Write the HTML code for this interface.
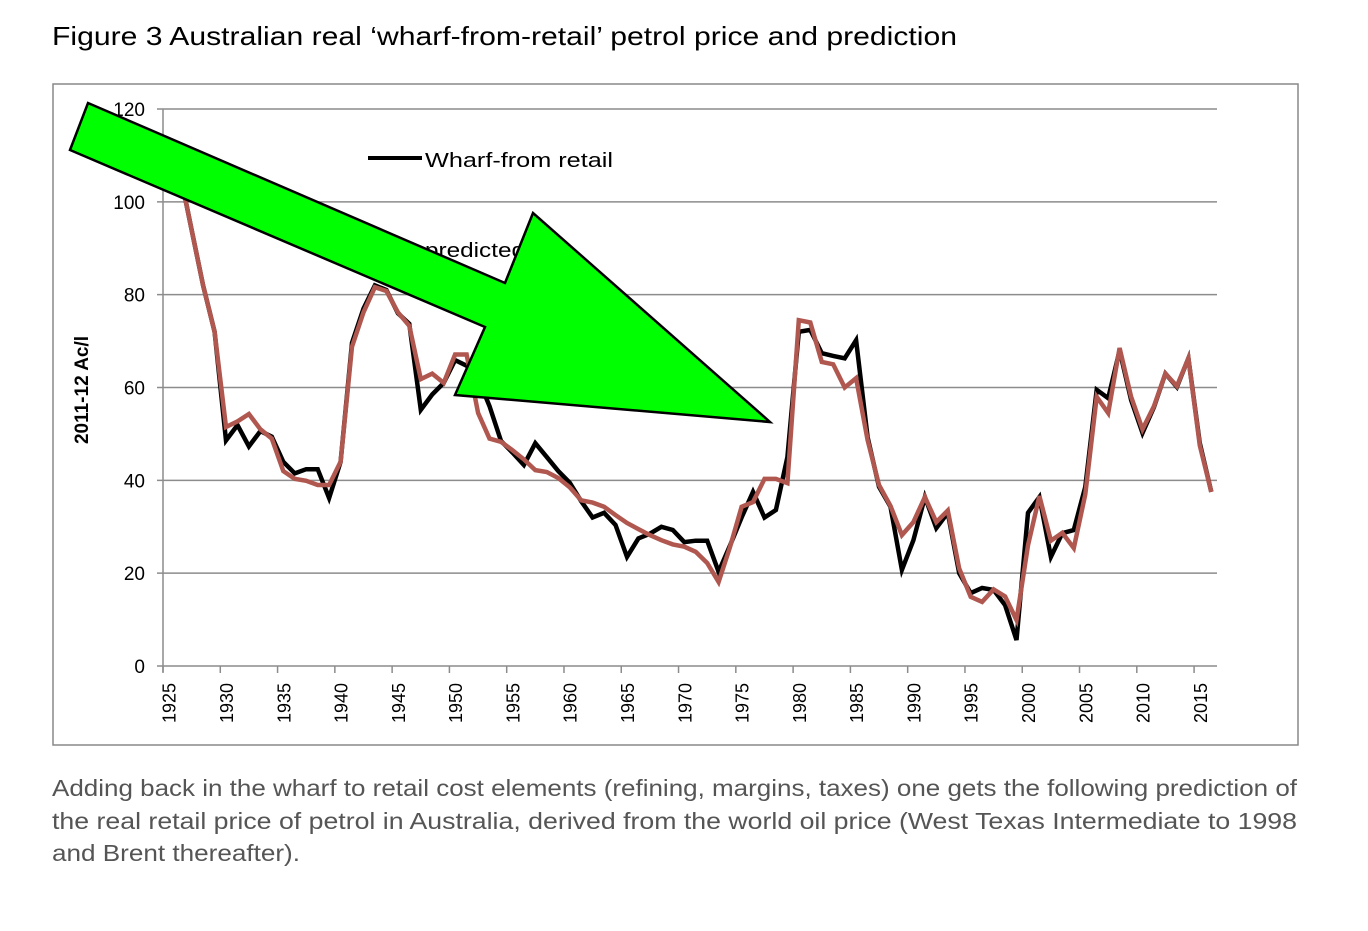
<!DOCTYPE html>
<html><head><meta charset="utf-8"><style>
body{margin:0;background:#fff;width:1368px;height:926px;overflow:hidden;font-family:"Liberation Sans",sans-serif}
</style></head><body>
<svg width="1368" height="926" xmlns="http://www.w3.org/2000/svg">
<text x="52" y="45" font-size="26" font-family="Liberation Sans, sans-serif" fill="#000" textLength="905" lengthAdjust="spacingAndGlyphs">Figure 3 Australian real ‘wharf-from-retail’ petrol price and prediction</text>
<rect x="53" y="84" width="1245" height="661" fill="#fff" stroke="#888" stroke-width="1.5"/>
<g id="grid"></g>
<g id="yaxis"></g>
<g id="xaxis"></g>
<text transform="translate(88,390) rotate(-90)" text-anchor="middle" font-size="19" font-weight="bold" font-family="Liberation Sans, sans-serif">2011-12 Ac/l</text>
<g id="series"></g>
<g>
<line x1="368" y1="158" x2="422" y2="158" stroke="#000" stroke-width="4"/>
<text x="425" y="167" font-size="20" font-family="Liberation Sans, sans-serif" textLength="188" lengthAdjust="spacingAndGlyphs">Wharf-from retail</text>
<line x1="368" y1="248" x2="422" y2="248" stroke="#b0574f" stroke-width="4"/>
<text x="425" y="257" font-size="20" font-family="Liberation Sans, sans-serif" textLength="100" lengthAdjust="spacingAndGlyphs">predicted</text>
</g>
<polygon points="88,103 505,283 533,213 770,422 455,395 485,327 70,150" fill="#00ff00" stroke="#000" stroke-width="2.5" stroke-linejoin="miter"/>
<g font-size="23" fill="#555" font-family="Liberation Sans, sans-serif">
<text x="52" y="796" textLength="1245" lengthAdjust="spacingAndGlyphs">Adding back in the wharf to retail cost elements (refining, margins, taxes) one gets the following prediction of</text>
<text x="52" y="829" textLength="1245" lengthAdjust="spacingAndGlyphs">the real retail price of petrol in Australia, derived from the world oil price (West Texas Intermediate to 1998</text>
<text x="52" y="861" textLength="248" lengthAdjust="spacingAndGlyphs">and Brent thereafter).</text>
</g>
</svg>
<script>
const startYear = 1925;
const wharf = [110,106,94,82,72,48.6,51.9,47.3,50.6,49.4,44,41.5,42.4,42.4,36.2,44,69.6,77,82,81,76,73.7,55.2,58.5,61,65.9,64.7,62,56,48.5,46,43.3,48,45,42,39.5,35.5,32,33,30.4,23.5,27.5,28.5,30,29.3,26.7,27,27,20.3,26,32,37.5,32,33.6,45,72,72.4,67.4,66.8,66.3,70.2,49.3,38.6,34.3,20.7,27.1,36.4,29.7,33,20,15.7,16.8,16.4,13.1,5.6,33,36.4,23.5,28.6,29.3,38.6,59.5,57.7,68,57.3,50.2,55.8,63,60.1,66.3,48,37.5];
const predicted = [110,106,94,82,72,51.5,52.7,54.3,51,49,42,40.3,39.9,39,39,44,68.8,76.2,81.6,80.8,76.2,73.3,61.8,63,61,67.1,67.1,54.5,49,48.3,46.5,44.5,42.2,41.8,40.5,38.5,35.7,35.2,34.3,32.5,30.8,29.5,28.2,27.1,26.2,25.7,24.6,22.2,18.1,25.7,34.3,35.3,40.3,40.3,39.4,74.5,74,65.5,65,60,62,48.7,39,34.5,28.2,31,36.4,31,33.5,21,14.9,13.8,16.5,15,9.9,26,36.6,27,28.7,25.4,37,58,54.5,68.5,58,51,56,63,60.3,66.3,47.5,37.5];
const yTicks = [0,20,40,60,80,100,120];
const xLabels = [1925,1930,1935,1940,1945,1950,1955,1960,1965,1970,1975,1980,1985,1990,1995,2000,2005,2010,2015];

const NS="http://www.w3.org/2000/svg";
const L=163,R=1217,Y0=666,Y120=109;
const nCat=92, cw=(R-L)/nCat;
function xs(year){return L+(year-startYear+0.5)*cw;}
function ys(v){return Y0-(v/120)*(Y0-Y120);}
function mk(tag,attrs,parent){const e=document.createElementNS(NS,tag);for(const k in attrs)e.setAttribute(k,attrs[k]);parent.appendChild(e);return e;}
const grid=document.getElementById('grid'),ya=document.getElementById('yaxis'),xa=document.getElementById('xaxis'),ser=document.getElementById('series');
yTicks.forEach(t=>{
  const g=mk('line',{x1:L-6,x2:R,y1:ys(t),y2:ys(t),stroke:'#8c8c8c','stroke-width':1.5},grid);
  
  
  const tx=mk('text',{x:L-18,y:ys(t)+7,'text-anchor':'end','font-size':19,'font-family':'Liberation Sans, sans-serif'},ya);
  tx.textContent=t;
  
  
});
const ax=mk('line',{x1:L,x2:L,y1:Y120,y2:Y0+6,stroke:'#8c8c8c','stroke-width':1.5},ya);


for(let i=0;i<=nCat;i+=5){
  const x=L+i*cw;
  const tk=mk('line',{x1:x,x2:x,y1:Y0,y2:Y0+7,stroke:'#8c8c8c','stroke-width':1.5},xa);
  
  
}
xLabels.forEach(yr=>{
  const x=xs(yr);
  const tx=mk('text',{transform:`translate(${x+7},683) rotate(-90)`,'text-anchor':'end','font-size':18,'font-family':'Liberation Sans, sans-serif'},xa);
  tx.textContent=yr;
  
  
});
function path(data,color,name){
  const d=data.map((v,i)=>(i?'L':'M')+xs(startYear+i).toFixed(1)+','+ys(v).toFixed(1)).join(' ');
  const p=mk('path',{d:d,fill:'none',stroke:color,'stroke-width':4.5,'stroke-linejoin':'miter'},ser);
  
  
}
path(wharf,'#000','wharf-from-retail-line');
path(predicted,'#b0574f','predicted-line');
</script>
</body></html>
